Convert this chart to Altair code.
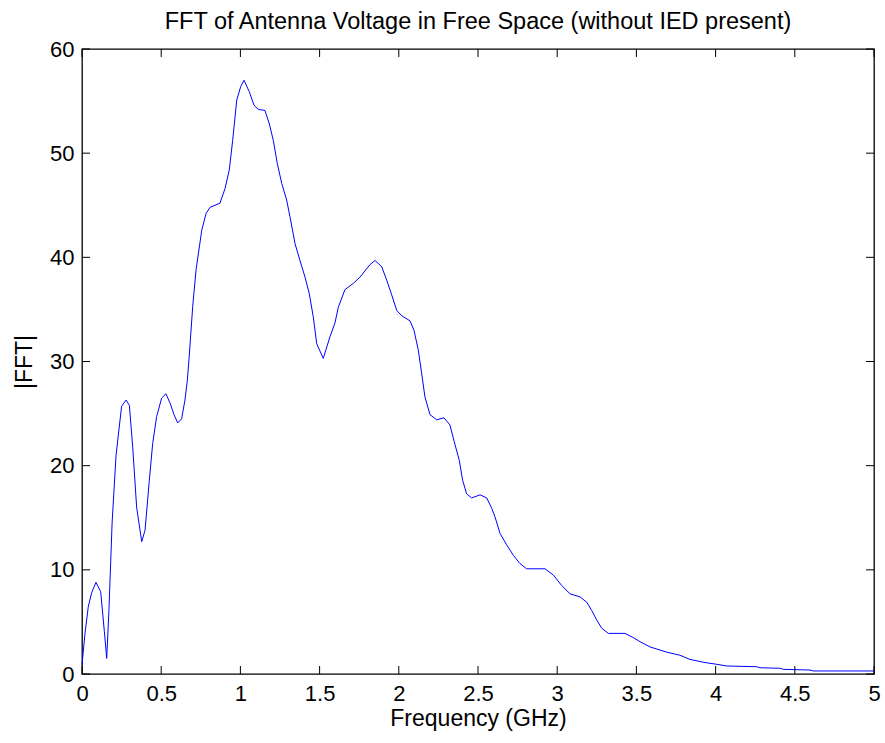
import altair as alt
import pandas as pd

freq = [0.0, 0.019, 0.04, 0.061, 0.088, 0.118, 0.141, 0.156, 0.17, 0.19, 0.215, 0.25, 0.278,
        0.299, 0.32, 0.345, 0.377, 0.398, 0.425, 0.446, 0.471, 0.503, 0.53, 0.556, 0.581,
        0.604, 0.629, 0.65, 0.665, 0.676, 0.699, 0.72, 0.756, 0.783, 0.808, 0.871, 0.903,
        0.93, 0.951, 0.977, 1.002, 1.023, 1.056, 1.086, 1.113, 1.155, 1.183, 1.208, 1.233,
        1.261, 1.292, 1.313, 1.345, 1.376, 1.408, 1.435, 1.46, 1.482, 1.523, 1.566, 1.597,
        1.618, 1.66, 1.713, 1.755, 1.818, 1.85, 1.892, 1.924, 1.955, 1.987, 2.018, 2.071,
        2.096, 2.123, 2.144, 2.165, 2.197, 2.239, 2.285, 2.323, 2.35, 2.382, 2.403, 2.428,
        2.46, 2.513, 2.555, 2.587, 2.607, 2.639, 2.681, 2.723, 2.765, 2.807, 2.923, 2.976,
        3.028, 3.081, 3.144, 3.186, 3.218, 3.249, 3.281, 3.323, 3.428, 3.48, 3.523, 3.586,
        3.691, 3.775, 3.838, 3.933, 3.996, 4.07, 4.259, 4.28, 4.407, 4.427, 4.596, 4.617,
        5.0]
mag = [0.9, 3.9, 6.5, 7.8, 8.8, 7.9, 4.1, 1.5, 6.1, 14.5, 21.0, 25.7, 26.3,
       25.8, 21.8, 16.0, 12.7, 13.8, 18.6, 22.1, 24.7, 26.5, 26.9, 26.0, 24.9,
       24.1, 24.5, 26.3, 28.2, 30.3, 35.3, 38.8, 42.6, 44.2, 44.8, 45.2, 46.6,
       48.4, 51.2, 55.1, 56.4, 57.0, 55.9, 54.6, 54.2, 54.1, 52.8, 51.2, 49.0,
       47.1, 45.5, 43.9, 41.3, 39.7, 38.1, 36.5, 34.3, 31.7, 30.3, 32.4, 33.7,
       35.2, 36.9, 37.5, 38.1, 39.3, 39.7, 39.1, 37.8, 36.4, 34.9, 34.4, 33.9,
       33.0, 31.1, 28.9, 26.6, 24.9, 24.4, 24.6, 23.9, 22.3, 20.5, 18.6, 17.3,
       16.9, 17.2, 16.9, 15.9, 15.1, 13.5, 12.4, 11.4, 10.6, 10.1, 10.1, 9.5,
       8.5, 7.7, 7.4, 6.9, 6.1, 5.2, 4.4, 3.9, 3.9, 3.5, 3.1, 2.6,
       2.1, 1.8, 1.4, 1.1, 0.96, 0.77, 0.7, 0.6, 0.55, 0.45, 0.38, 0.29,
       0.29]

x_ticks = [0, 0.5, 1, 1.5, 2, 2.5, 3, 3.5, 4, 4.5, 5]
y_ticks = [0, 10, 20, 30, 40, 50, 60]

W, H = 792, 625
TL = 8
FONT = "Liberation Sans"

df = pd.DataFrame({"f": freq, "m": mag})
xt = pd.DataFrame({"f": x_ticks})
yt = pd.DataFrame({"m": y_ticks})

xscale = alt.Scale(domain=[0, 5], nice=False, zero=False)
yscale = alt.Scale(domain=[0, 60], nice=False)

common = dict(tickSize=0, domain=False, grid=False, labelFlush=False,
              labelExpr="'' + datum.value",
              labelFont=FONT, titleFont=FONT, labelFontSize=22, titleFontSize=23,
              labelColor="black", titleColor="black", titleFontWeight="normal")
xaxis = alt.Axis(values=x_ticks, labelPadding=9, titlePadding=3, **common)
yaxis = alt.Axis(values=y_ticks, labelPadding=8, titlePadding=13, **common)

X = alt.X("f:Q", scale=xscale, title="Frequency (GHz)", axis=xaxis)
Y = alt.Y("m:Q", scale=yscale, title="|FFT|", axis=yaxis)

line = alt.Chart(df).mark_line(color="#0000ff", strokeWidth=1, interpolate="linear").encode(
    x=X, y=Y)

bt = alt.Chart(xt).mark_rule(color="black", strokeWidth=1).encode(
    x=X, y=alt.value(H), y2=alt.value(H - TL))
tt = alt.Chart(xt).mark_rule(color="black", strokeWidth=1).encode(
    x=X, y=alt.value(0), y2=alt.value(TL))
lt = alt.Chart(yt).mark_rule(color="black", strokeWidth=1).encode(
    y=Y, x=alt.value(0), x2=alt.value(TL))
rt = alt.Chart(yt).mark_rule(color="black", strokeWidth=1).encode(
    y=Y, x=alt.value(W), x2=alt.value(W - TL))

chart = alt.layer(line, bt, tt, lt, rt).properties(
    width=W, height=H,
    background="white",
    title=alt.TitleParams("FFT of Antenna Voltage in Free Space (without IED present)",
                          font=FONT, fontSize=23.5, fontWeight="normal", color="black",
                          offset=5),
    autosize=alt.AutoSizeParams(type="none"),
    padding={"left": 82, "top": 49, "right": 11, "bottom": 69},
).configure_view(stroke="black", strokeWidth=1.3)

chart.save("out.html", embed_options={"renderer": "svg", "actions": False})
